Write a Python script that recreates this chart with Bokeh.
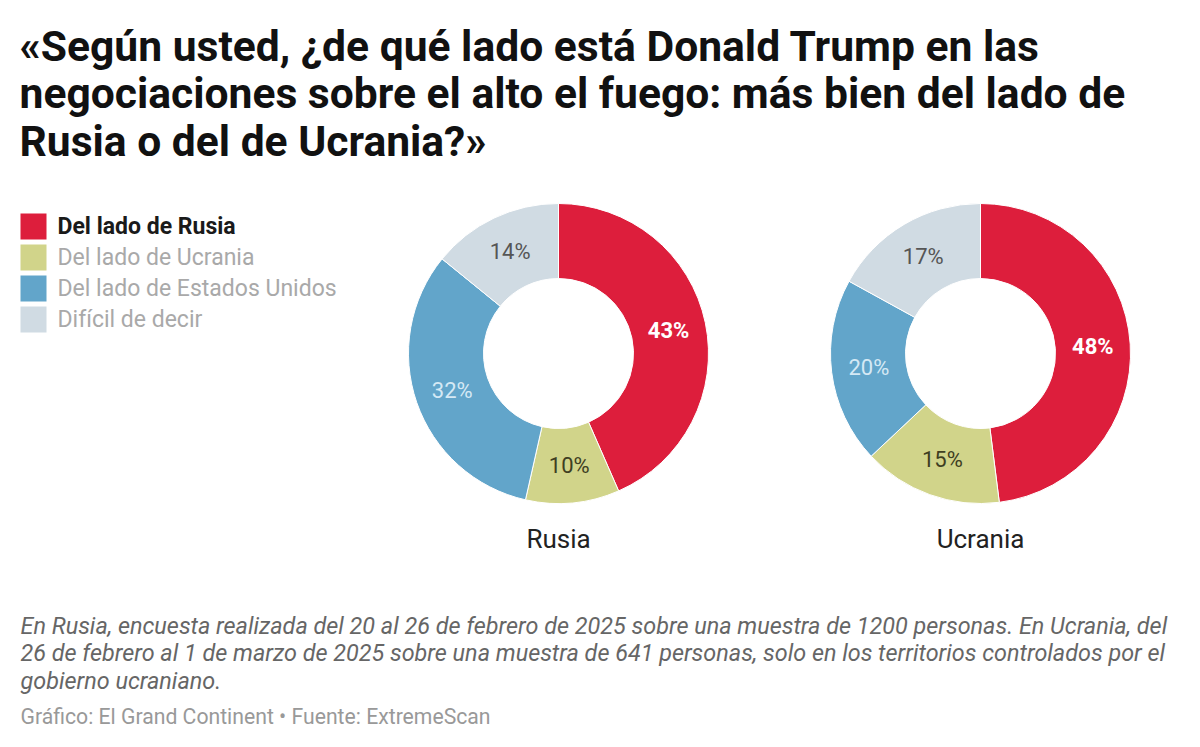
import math
from bokeh.plotting import figure
from bokeh.models import Range1d, ColumnDataSource
from bokeh.core.properties import value
from bokeh.embed import file_html
from bokeh.resources import INLINE

# ---------------- data ----------------
title_lines = [
    "«Según usted, ¿de qué lado está Donald Trump en las",
    "negociaciones sobre el alto el fuego: más bien del lado de",
    "Rusia o del de Ucrania?»",
]
categories = ["Del lado de Rusia", "Del lado de Ucrania", "Del lado de Estados Unidos", "Difícil de decir"]
colors = ["#dd1e3c", "#d1d48a", "#62a5ca", "#d0dbe3"]
label_colors = ["#ffffff", "#3e3e22", "#d5e9f5", "#555555"]
label_bold = ["bold", "normal", "normal", "normal"]
countries = ["Rusia", "Ucrania"]
rusia_values = [43, 10, 32, 14]
ucrania_values = [48, 15, 20, 17]
series = [rusia_values, ucrania_values]
notes = [
    "En Rusia, encuesta realizada del 20 al 26 de febrero de 2025 sobre una muestra de 1200 personas. En Ucrania, del",
    "26 de febrero al 1 de marzo de 2025 sobre una muestra de 641 personas, solo en los territorios controlados por el",
    "gobierno ucraniano.",
]
source = "Gráfico: El Grand Continent • Fuente: ExtremeScan"

FONT = "Roboto"
W, H = 1184, 731


def Y(y):
    return H - y


p = figure(width=W, height=H, output_backend="svg", toolbar_location=None,
           x_range=Range1d(0, W), y_range=Range1d(0, H),
           min_border=0, background_fill_color="white", border_fill_color="white")
p.axis.visible = False
p.grid.visible = False
p.outline_line_color = None


def txt(x, y, s, size, color, style="normal", align="left"):
    p.text(x=[x], y=[Y(y)], text=[s], text_font=value(FONT), text_font_size=size,
           text_font_style=style, text_color=color, text_align=align, text_baseline="middle")


# title
for i, t in enumerate(title_lines):
    txt(19, 45 + i * 47.5, t, "42.6px", "#111111", "bold")

# legend
leg_y = [226 + i * 31 for i in range(len(categories))]
p.rect(x=[33] * 4, y=[Y(v) for v in leg_y], width=26, height=26, fill_color=colors, line_color=None)
for i, c in enumerate(categories):
    txt(57, leg_y[i], c, "23px", "#1a1a1a" if i == 0 else "#a9a9a9", "bold" if i == 0 else "normal")

# donuts
centers_x = [558, 980]
cy = Y(353)
r_in, r_out = 75, 150
for k, vals in enumerate(series):
    tot = float(sum(vals))
    starts, ends, lx, ly = [], [], [], []
    cum = 0.0
    for v in vals:
        a0 = cum / tot
        cum += v
        a1 = cum / tot
        starts.append(math.pi / 2 - a1 * 2 * math.pi)
        ends.append(math.pi / 2 - a0 * 2 * math.pi)
        mid = math.pi / 2 - (a0 + a1) / 2 * 2 * math.pi
        rm = (r_in + r_out) / 2
        lx.append(centers_x[k] + rm * math.cos(mid))
        ly.append(cy + rm * math.sin(mid))
    src = ColumnDataSource(dict(start=starts, end=ends, color=colors))
    p.annular_wedge(x=centers_x[k], y=cy, inner_radius=r_in, outer_radius=r_out,
                    start_angle="start", end_angle="end", fill_color="color",
                    line_color="white", line_width=1, source=src)
    for j, v in enumerate(vals):
        p.text(x=[lx[j]], y=[ly[j]], text=[f"{v}%"], text_font=value(FONT), text_font_size="22px",
               text_font_style=label_bold[j], text_color=label_colors[j],
               text_align="center", text_baseline="middle")
    txt(centers_x[k], 538, countries[k], "26px", "#222222", align="center")

# notes
for i, t in enumerate(notes):
    txt(20, 625 + i * 27.5, t, "23.4px", "#666666", "italic")
txt(20, 716, source, "21.2px", "#999999")

open("out.html", "w").write(file_html(p, INLINE))
